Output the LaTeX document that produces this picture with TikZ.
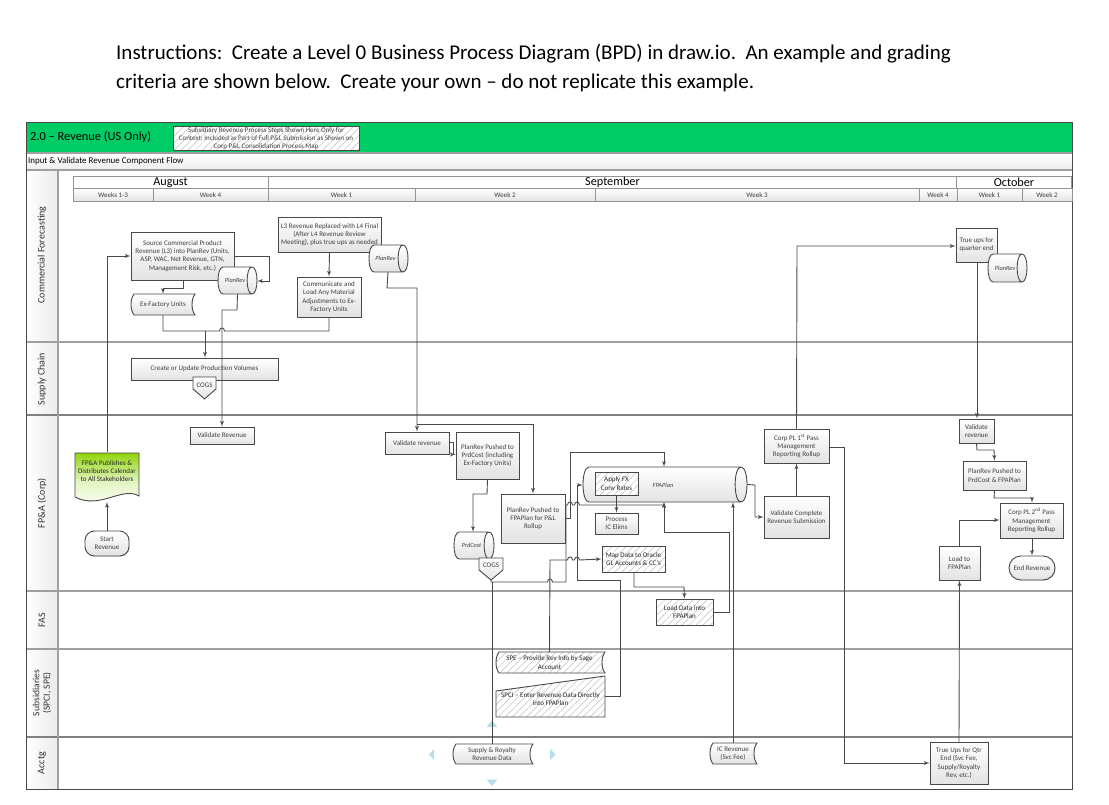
\documentclass[tikz,border=0pt]{standalone}
\usepackage{fontspec}
\setmainfont{Carlito}
\usetikzlibrary{arrows}
\usetikzlibrary{patterns.meta}
\usetikzlibrary{shadows}
\definecolor{headgreen}{HTML}{00CC66}
\definecolor{docgreen}{HTML}{8FD40A}
\definecolor{handleblue}{HTML}{B5DDEE}
\definecolor{linegray}{HTML}{484848}
% wire crossing, a small hump at (x,y)
\newcommand{\hop}[2]{-- (#1-2.5,#2) .. controls (#1-2.5,#2-4) and (#1+2.5,#2-4) .. (#1+2.5,#2)}
% outline of a stored data box, corners (x1,y1) and (x2,y2)
\newcommand{\storedpath}[4]{(#1+3,#2) .. controls (#1-1,#2+5) and (#1-1,#4-5) .. (#1+3,#4) -- (#3,#4) .. controls (#3-4,#4-5) and (#3-4,#2+5) .. (#3,#2) -- cycle}
% outline of a lying can, corners (x1,y1) and (x2,y2), end depth r
\newcommand{\canpath}[5]{(#1+#5,#2) .. controls (#1-#5/3,#2) and (#1-#5/3,#4) .. (#1+#5,#4) -- (#3-#5,#4) .. controls (#3+#5/3,#4) and (#3+#5/3,#2) .. (#3-#5,#2) -- cycle (#3-#5,#2) .. controls (#3-#5*2.3,#2) and (#3-#5*2.3,#4) .. (#3-#5,#4)}
\begin{document}
\begin{tikzpicture}[x=1pt, y=-1pt, >=latex']
    \tikzstyle{txt} = [inner sep=0, align=center, font=\fontsize{7}{8.3}\selectfont, text=black!75];
    \tikzstyle{frame} = [draw=linegray, line width=0.9];
    \tikzstyle{lane} = [draw=gray!75, line width=1.2];
    \tikzstyle{gradfill} = [top color=white, bottom color=gray!22];
    \tikzstyle{shade} = [drop shadow={shadow xshift=0.7pt, shadow yshift=-0.7pt, opacity=.35, fill=gray}];
    \tikzstyle{block} = [txt, frame, gradfill, shade, rectangle];
    \tikzstyle{hatch} = [frame, preaction={fill=white}, pattern={Lines[angle=45,distance=5pt,line width=0.5pt]}, pattern color=gray!50];
    \tikzstyle{hblock} = [txt, hatch, rectangle, text=black!85];
    \tikzstyle{bare} = [txt, rectangle];
    \tikzstyle{pill} = [block, rounded corners=9.5];
    \tikzstyle{canlabel} = [bare, font=\fontsize{6.3}{8.3}\selectfont\itshape];
    \tikzstyle{week} = [txt, draw=gray!85, line width=0.7, gradfill, rectangle];
    \tikzstyle{month} = [inner sep=0, draw=gray!85, line width=0.7, fill=white, rectangle, font=\fontsize{12.2}{13}\selectfont];
    \tikzstyle{lanelabel} = [inner sep=0, align=center, rotate=90, font=\fontsize{10}{11}\selectfont, text=black!80];
    \tikzstyle{flow} = [draw=linegray, line width=0.9, ->];
    \tikzstyle{wire} = [draw=linegray, line width=0.9];
    \tikzstyle{handle} = [fill=handleblue, draw=none];

    \useasboundingbox (0,0) rectangle (1109,805);
    \node [inner sep=0, anchor=west, font=\fontsize{21}{22}\selectfont] (line1) at (116,54) {Instructions:\ \ Create a Level 0 Business Process Diagram (BPD) in draw.io.\ \ An example and grading};
    \node [inner sep=0, anchor=west, font=\fontsize{21}{22}\selectfont] (line2) at (116,83) {criteria are shown below.\ \ Create your own -- do not replicate this example.};

    % pool
    \fill [headgreen] (26,122) rectangle (1072,153);
    \fill [top color=white, bottom color=gray!14] (26,153) rectangle (1072,170);
    \fill [left color=white, right color=gray!16] (26,170) rectangle (58,789);
    \draw [lane] (26,153) -- (1072,153);
    \draw [lane] (26,170) -- (1072,170);
    \draw [lane] (26,342) -- (1072,342);
    \draw [draw=gray, line width=1.2] (26,415) -- (1072,415);
    \draw [lane] (26,591) -- (1072,591);
    \draw [lane] (26,649) -- (1072,649);
    \draw [draw=gray, line width=1.2] (26,737) -- (1072,737);
    \draw [lane] (58,170) -- (58,789);
    \draw [draw=linegray, line width=0.9] (26,122) rectangle (1072,789);
    \node [inner sep=0, anchor=west, font=\fontsize{12.4}{13}\selectfont] (pooltitle) at (30,137) {2.0 -- Revenue (US Only)};
    \node [hblock, minimum width=186, minimum height=24.5, text=black!75] (legend) at (266,138.5) {Subsidiary Revenue Process Steps Shown Here Only for\\[-0.4pt]Context; Included as Part of Full P\&L Submission as Shown on\\[-0.4pt]Corp P\&L Consolidation Process Map};
    \node [inner sep=0, anchor=west, font=\fontsize{8.9}{9}\selectfont] (flowtitle) at (28,161.5) {Input \& Validate Revenue Component Flow};

    % lanes
    \node [lanelabel] (forecast) at (42,255) {Commercial Forecasting};
    \node [lanelabel] (supply) at (42,379) {Supply Chain};
    \node [lanelabel] (corp) at (42,503) {FP\&A (Corp)};
    \node [lanelabel] (fas) at (42,620) {FAS};
    \node [lanelabel, font=\fontsize{9.6}{10.5}\selectfont] (subs) at (42,693) {Subsidiaries\\(SPCI, SPE)};
    \node [lanelabel] (acctg) at (42,763) {Acctg};

    % calendar
    \node [month, minimum width=195, minimum height=12.5] (august) at (170.5,182.5) {August};
    \node [month, minimum width=689, minimum height=12.5] (september) at (612.5,182.5) {September};
    \node [month, minimum width=115, minimum height=12.5] (october) at (1014,182.5) {October};
    \node [week, minimum width=80, minimum height=13] (w13) at (113,195) {Weeks 1-3};
    \node [week, minimum width=115, minimum height=13] (w4) at (210.5,195) {Week 4};
    \node [week, minimum width=147, minimum height=13] (sw1) at (341.5,195) {Week 1};
    \node [week, minimum width=180, minimum height=13] (sw2) at (505,195) {Week 2};
    \node [week, minimum width=324, minimum height=13] (sw3) at (757,195) {Week 3};
    \node [week, minimum width=38, minimum height=13] (sw4) at (938,195) {Week 4};
    \node [week, minimum width=65, minimum height=13] (ow1) at (989.5,195) {Week 1};
    \node [week, minimum width=50, minimum height=13] (ow2) at (1047,195) {Week 2};

    % commercial forecasting
    \node [block, minimum width=103, minimum height=48] (source) at (182.5,256) {Source Commercial Product\\Revenue (L3) into PlanRev (Units,\\ASP, WAC, Net Revenue, GTN,\\Management Risk, etc.)};
    \draw [frame, gradfill] \canpath{218}{267}{257}{294}{5};
    \node [canlabel, minimum width=39, minimum height=27] (planrev) at (237.5,280.5) {\hspace*{-5pt}PlanRev};
    \draw [frame, gradfill] \storedpath{131}{294}{195}{315};
    \node [bare, minimum width=64, minimum height=21] (exfactory) at (163,304.5) {Ex-Factory Units};
    \node [block, minimum width=103, minimum height=35] (replaced) at (329.5,234.5) {L3 Revenue Replaced with L4 Final\\(After L4 Revenue Review\\Meeting), plus true ups as needed};
    \draw [frame, gradfill] \canpath{369}{245}{408}{272}{5};
    \node [canlabel, minimum width=39, minimum height=27] (planrevb) at (388,258.5) {\hspace*{-5pt}PlanRev};
    \node [block, minimum width=64, minimum height=40] (communicate) at (329,297) {Communicate and\\Load Any Material\\Adjustments to Ex-\\Factory Units};
    \node [block, minimum width=41, minimum height=34] (trueups) at (976.5,245) {True ups for\\quarter end};
    \draw [frame, gradfill] \canpath{988}{254}{1027}{282}{5};
    \node [canlabel, minimum width=39, minimum height=28] (planrevc) at (1007.5,268) {\hspace*{-5pt}PlanRev};

    % supply chain
    \node [block, minimum width=147, minimum height=22] (create) at (204.5,369) {Create or Update Production Volumes};
    \draw [frame, gradfill] (193,377) -- (216,377) -- (216,389) -- (204.5,399) -- (193,389) -- cycle;
    \node [bare, minimum width=23, minimum height=22] (cogs) at (204.5,388) {};
    \node [bare] (cogstext) at (204.5,385) {COGS};

    % fp&a
    \draw [frame, top color=docgreen, bottom color=white, middle color=docgreen!25] (75,453) -- (139,453) -- (139,496) .. controls (122,486) and (100,510) .. (75,497) -- cycle;
    \node [bare, minimum width=64, minimum height=45] (publish) at (107,475) {};
    \node [bare, text=black!85] (publishtext) at (107,471) {FP\&A Publishes \&\\Distributes Calendar\\to All Stakeholders};
    \node [pill, minimum width=44, minimum height=25] (start) at (107,543.5) {Start\\Revenue};
    \node [block, minimum width=64, minimum height=17] (validate) at (222,435.5) {Validate Revenue};
    \node [block, minimum width=64, minimum height=22] (validateb) at (417,443) {Validate revenue};
    \node [block, minimum width=63, minimum height=47] (pushed) at (487.5,455.5) {PlanRev Pushed to\\PrdCost (including\\Ex-Factory Units)};
    \node [block, minimum width=64, minimum height=49] (rollup) at (533,518.5) {PlanRev Pushed to\\FPAPlan for P\&L\\Rollup};
    \draw [frame, gradfill] \canpath{454}{532}{494}{559}{5};
    \node [canlabel, minimum width=40, minimum height=27] (prdcost) at (474,545.5) {\hspace*{-5pt}PrdCost};
    \draw [frame, gradfill] (479,558) -- (503,558) -- (503,570) -- (491,580) -- (479,570) -- cycle;
    \node [bare, minimum width=24, minimum height=22] (cogsb) at (491,569) {};
    \node [bare] (cogsbtext) at (491,565) {COGS};
    \draw [frame, gradfill] \canpath{583}{467}{747}{502}{6};
    \node [canlabel, minimum width=164, minimum height=35] (fpaplan) at (665,484.5) {};
    \node [canlabel] (fpatext) at (663,485) {FPAPlan};
    \node [hblock, minimum width=43, minimum height=23] (applyfx) at (616.5,483.5) {Apply FX\\Conv Rates};
    \node [block, minimum width=43, minimum height=21] (process) at (616.5,523.5) {Process\\IC Elims};
    \node [hblock, minimum width=63, minimum height=26] (mapdata) at (633.5,559) {Map Data to Oracle\\GL Accounts \& CC's};
    \node [block, minimum width=65, minimum height=42] (complete) at (796.5,517) {Validate Complete\\Revenue Submission};
    \node [block, minimum width=65, minimum height=34] (corpa) at (796.5,446) {Corp PL 1\textsuperscript{st} Pass\\Management\\Reporting Rollup};
    \node [block, minimum width=35, minimum height=24] (validatec) at (976.5,431) {Validate\\revenue};
    \node [block, minimum width=63, minimum height=29] (pushedb) at (994.5,475.5) {PlanRev Pushed to\\PrdCost \& FPAPlan};
    \node [block, minimum width=63, minimum height=35] (corpb) at (1031.5,520.5) {Corp PL 2\textsuperscript{nd} Pass\\Management\\Reporting Rollup};
    \node [block, minimum width=41, minimum height=34] (load) at (959.5,563) {Load to\\FPAPlan};
    \node [pill, rounded corners=12, minimum width=46, minimum height=24] (endrev) at (1032,568) {End Revenue};

    % fas
    \node [hblock, minimum width=57, minimum height=26] (loaddata) at (684.5,612) {Load Data into\\FPAPlan};

    % subsidiaries
    \draw [hatch] \storedpath{496}{652}{605}{673};
    \node [bare, minimum width=109, minimum height=21, text=black!85] (spe) at (549.5,662.5) {SPE -- Provide Rev Info by Sage\\Account};
    \draw [hatch] (496,691) -- (605,676) -- (605,717) -- (496,717) -- cycle;
    \node [bare, minimum width=109, minimum height=41, text=black!85] (spci) at (550.5,699) {SPCI -- Enter Revenue Data Directly\\into FPAPlan};

    % acctg
    \draw [frame, gradfill] \storedpath{453}{744}{533}{764};
    \node [bare, minimum width=80, minimum height=20] (royalty) at (492,754) {Supply \& Royalty\\Revenue Data};
    \draw [frame, gradfill] \storedpath{710}{743}{757}{764};
    \node [bare, minimum width=47, minimum height=21] (icrev) at (733,753.5) {IC Revenue\\(Svc Fee)};
    \node [block, minimum width=58, minimum height=42] (trueqtr) at (959,763) {True Ups for Qtr\\End (Svc Fee,\\Supply/Royalty\\Rev, etc.)};

    % selection handles
    \fill [handle] (486.5,727) -- (492,720.5) -- (497.5,727) -- cycle;
    \fill [handle] (486.5,779.5) -- (492,786) -- (497.5,779.5) -- cycle;
    \fill [handle] (434,749) -- (429,754.5) -- (434,760) -- cycle;
    \fill [handle] (550,749) -- (555.5,754.5) -- (550,760) -- cycle;

    % flows, left side
    \draw [flow] (start) -- (107,502);
    \draw [flow] (publish.north) -- (107,256) -- (source.west |- 0,256);
    \draw [flow] (source.east |- 0,256) -- (269,256) -- (269,281) -- (planrev.east |- 0,281);
    \draw [flow] (183,0 |- source.south) -- (183,288) -- (163,288) -- (exfactory.north);
    \draw [wire] (exfactory.south) -- (163,331) \hop{222}{331} -- (329,331) -- (communicate.south);
    \draw [flow] (205,331) -- (205,0 |- create.north);
    \draw [flow] (planrev.south) -- (237,310) -- (222,310) -- (validate.north);
    \draw [flow] (replaced.south) -- (communicate.north);
    \draw [flow] (planrevb.south) -- (387,288) -- (417,288) -- (validateb.north);
    \draw [flow] (417,424) -- (533,424) -- (rollup.north);
    \draw [flow] (validateb.east |- 0,442) -- (453,442) -- (453,454.5) -- (pushed.west |- 0,454.5);
    \draw [flow] (pushed.south) -- (487,494) -- (473,494) -- (473,0 |- prdcost.north);

    % flows, middle
    \draw [wire] (royalty.north) -- (492,582);
    \draw [flow] (cogsb.south) -- (491,582) \hop{550}{582} -- (566,582) -- (566,505) \hop{570}{505} \hop{577}{505} -- (664,505) -- (664,0 |- fpaplan.south);
    \draw [flow] (rollup.east |- 0,518) -- (570,518) -- (570,452) -- (664,452) -- (664,0 |- fpaplan.north);
    \draw [flow] (spe.north) -- (550,560) \hop{570}{560} \hop{577}{560} -- (mapdata.west);
    \draw [flow] (spci.east |- 0,696) -- (620,696) -- (620,580) -- (577,580) -- (577,485) -- (fpaplan.west |- 0,485);
    \draw [flow] (applyfx.south) -- (process.north);
    \draw [flow] (634,0 |- mapdata.south) -- (634,587) -- (684,587) -- (loaddata.north);
    \draw [flow] (loaddata.east) -- (729,612) -- (729,532) -- (664,532) -- (664,0 |- fpaplan.south);
    \draw [flow] (icrev.north) -- (733,0 |- fpaplan.south);

    % flows, right side
    \draw [flow] (fpaplan.east) -- (755,485) -- (755,517) -- (complete.west);
    \draw [flow] (complete.north) -- (corpa.south);
    \draw [flow] (corpa.north) -- (797,246) -- (trueups.west |- 0,246);
    \draw [flow] (corpa.east |- 0,447) -- (844,447) -- (844,763) -- (trueqtr.west);
    \draw [flow] (977,0 |- trueups.south) -- (977,0 |- validatec.north);
    \draw [flow] (validatec.south) -- (977,450) -- (994,450) -- (pushedb.north);
    \draw [flow] (pushedb.south) -- (994,498) -- (1032,498) -- (1032,0 |- corpb.north);
    \draw [flow] (1032,0 |- corpb.south) -- (1032,0 |- endrev.north);
    \draw [flow] (load.north) -- (959.5,520) -- (corpb.west |- 0,520);
    \draw [flow] (trueqtr.north) -- (load.south);
  \end{tikzpicture}
\end{document}
